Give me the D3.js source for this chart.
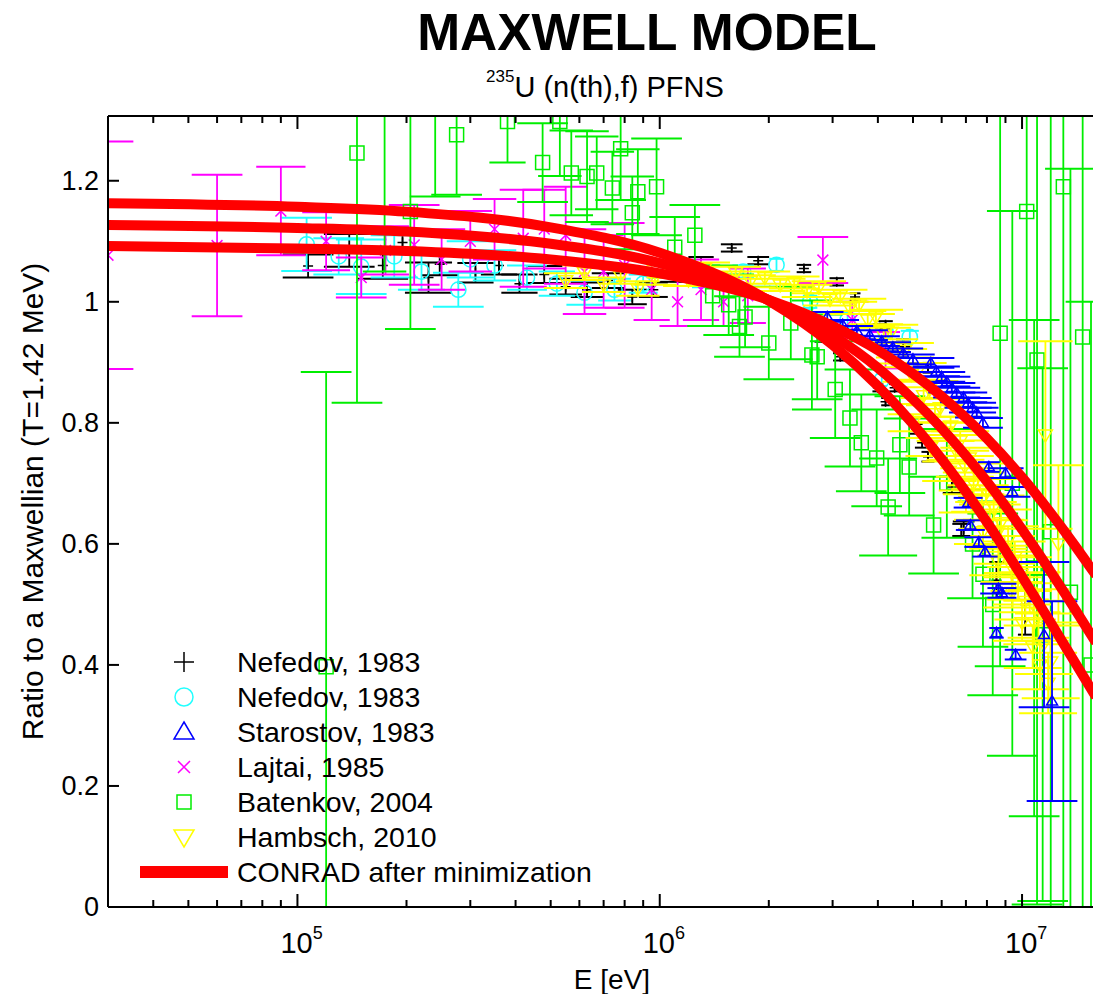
<!DOCTYPE html>
<html>
<head>
<meta charset="utf-8">
<script src="https://cdn.jsdelivr.net/npm/d3@7"></script>
<style>
body { margin: 0; background: #fff; }
text { font-family: "Liberation Sans", Arial, Helvetica, sans-serif; }
</style>
</head>
<body>
<div id="graph"></div>
<script>

// ---- data ----
// each point: [E (eV), ratio, d ratio, half width of energy bin (log10 units)]

var nefedovPlus = [
	[1.07e5, 1.059, 0.019, 0.07], [1.39e5, 1.085, 0.027, 0.07], [1.72e5, 1.060, 0.022, 0.07],
	[1.95e5, 1.098, 0.018, 0.06], [2.3e5, 1.040, 0.025, 0.065], [2.47e5, 1.062, 0.018, 0.05],
	[3.1e5, 1.048, 0.016, 0.05], [3.6e5, 1.060, 0.015, 0.05], [4.1e5, 1.030, 0.015, 0.05],
	[4.8e5, 1.045, 0.014, 0.05], [5.5e5, 1.025, 0.013, 0.045], [6.3e5, 1.020, 0.012, 0.045],
	[7.2e5, 1.035, 0.012, 0.045], [8.4e5, 1.008, 0.012, 0.04], [9.6e5, 1.020, 0.012, 0.04],
	[1.1e6, 1.045, 0.012, 0.04], [1.3e6, 1.062, 0.012, 0.035], [1.58e6, 1.089, 0.006, 0.03],
	[1.87e6, 1.068, 0.006, 0.03], [2.5e6, 1.055, 0.006, 0.02], [2.8e6, 0.940, 0.006, 0.02],
	[3.08e6, 1.033, 0.006, 0.02], [3.15e6, 0.909, 0.006, 0.02], [3.46e6, 1.008, 0.006, 0.015],
	[4.0e6, 0.858, 0.006, 0.015], [4.05e6, 0.957, 0.006, 0.02], [4.2e6, 0.835, 0.006, 0.012],
	[4.2e6, 0.962, 0.006, 0.02], [4.45e6, 0.858, 0.006, 0.015], [4.7e6, 0.932, 0.006, 0.02],
	[5.1e6, 0.790, 0.008, 0.018], [5.3e6, 0.767, 0.008, 0.02], [5.5e6, 0.891, 0.008, 0.015],
	[5.5e6, 0.744, 0.008, 0.018], [6.4e6, 0.694, 0.010, 0.025], [6.8e6, 0.623, 0.010, 0.025],
	[6.9e6, 0.625, 0.012, 0.03], [8.5e6, 0.540, 0.030, 0.02], [1.02e7, 0.500, 0.050, 0.02]
];

var nefedovCircle = [
	[1.06e5, 1.095, 0.044, 0.07], [1.3e5, 1.075, 0.030, 0.07], [1.5e5, 1.058, 0.045, 0.07],
	[1.85e5, 1.075, 0.035, 0.065], [2.2e5, 1.050, 0.030, 0.065], [2.78e5, 1.020, 0.028, 0.07],
	[3.0e5, 1.070, 0.030, 0.065], [3.5e5, 1.060, 0.025, 0.06], [4.3e5, 1.040, 0.020, 0.055],
	[5.2e5, 1.030, 0.020, 0.05], [6.2e5, 1.015, 0.020, 0.05], [7.5e5, 1.020, 0.018, 0.045],
	[9.0e5, 1.030, 0.015, 0.04], [1.3e6, 1.036, 0.012, 0.025], [1.7e6, 1.050, 0.010, 0.03],
	[2.1e6, 1.061, 0.010, 0.02], [2.6e6, 1.000, 0.010, 0.02], [3.3e6, 0.970, 0.010, 0.02],
	[4.1e6, 0.871, 0.010, 0.015], [4.2e6, 0.950, 0.010, 0.02], [4.9e6, 0.942, 0.010, 0.025]
];

var starostov = [
	[2.9e6, 0.975, 0.008, 0.045], [3.2e6, 0.962, 0.008, 0.045], [3.5e6, 0.952, 0.008, 0.045],
	[3.8e6, 0.945, 0.008, 0.05], [4.1e6, 0.935, 0.008, 0.05], [4.4e6, 0.925, 0.008, 0.05],
	[4.7e6, 0.915, 0.008, 0.055], [5.0e6, 0.905, 0.008, 0.06], [5.6e6, 0.899, 0.008, 0.065],
	[5.8e6, 0.885, 0.008, 0.065], [6.0e6, 0.876, 0.008, 0.065], [6.2e6, 0.868, 0.008, 0.065],
	[6.4e6, 0.858, 0.008, 0.065], [6.6e6, 0.850, 0.008, 0.065], [6.9e6, 0.842, 0.008, 0.065],
	[7.1e6, 0.833, 0.008, 0.065], [7.3e6, 0.825, 0.008, 0.065], [7.5e6, 0.817, 0.008, 0.06],
	[7.8e6, 0.800, 0.008, 0.055], [8.1e6, 0.727, 0.008, 0.03], [9.0e6, 0.717, 0.008, 0.05],
	[9.4e6, 0.686, 0.008, 0.05], [7.1e6, 0.668, 0.008, 0.04], [7.2e6, 0.631, 0.008, 0.04],
	[7.6e6, 0.603, 0.008, 0.04], [7.9e6, 0.587, 0.008, 0.035], [8.6e6, 0.526, 0.008, 0.05],
	[8.8e6, 0.519, 0.008, 0.04], [8.5e6, 0.453, 0.008, 0.02], [9.6e6, 0.417, 0.008, 0.03],
	[1.15e7, 0.450, 0.120, 0.07], [1.21e7, 0.340, 0.165, 0.07]
];

var lajtai = [
	[3.0e4, 1.077, 0.188, 0.07], [6.0e4, 1.093, 0.117, 0.07], [9.0e4, 1.150, 0.073, 0.068],
	[1.2e5, 1.100, 0.048, 0.066], [1.5e5, 1.040, 0.033, 0.07], [1.75e5, 1.085, 0.040, 0.065],
	[2.1e5, 1.094, 0.066, 0.07], [2.5e5, 1.070, 0.050, 0.065], [3.0e5, 1.100, 0.050, 0.06],
	[3.5e5, 1.120, 0.050, 0.06], [4.2e5, 1.105, 0.080, 0.065], [4.8e5, 1.120, 0.065, 0.06],
	[5.5e5, 1.110, 0.080, 0.06], [6.2e5, 1.050, 0.070, 0.06], [7.0e5, 1.050, 0.060, 0.055],
	[8.0e5, 1.060, 0.070, 0.055], [9.5e5, 1.020, 0.050, 0.05], [1.12e6, 1.000, 0.040, 0.05],
	[1.3e6, 1.020, 0.050, 0.05], [1.5e6, 1.000, 0.040, 0.045], [1.75e6, 1.010, 0.045, 0.05],
	[2.82e6, 1.069, 0.038, 0.07], [3.4e6, 0.970, 0.030, 0.045], [4.2e6, 0.920, 0.030, 0.04]
];

var batenkov = [
	[1.2e5, 0.397, 0.487, 0.07], [1.46e5, 1.246, 0.413, 0.07], [1.74e5, 1.400, 0.350, 0.06],
	[2.05e5, 1.149, 0.194, 0.07], [2.4e5, 1.320, 0.146, 0.07], [2.75e5, 1.276, 0.099, 0.07],
	[3.8e5, 1.298, 0.068, 0.05], [4.75e5, 1.230, 0.065, 0.07], [5.3e5, 1.298, 0.090, 0.06],
	[5.7e5, 1.213, 0.070, 0.06], [6.3e5, 1.207, 0.075, 0.06], [6.7e5, 1.213, 0.060, 0.06],
	[7.4e5, 1.188, 0.060, 0.06], [7.8e5, 1.253, 0.085, 0.07], [8.4e5, 1.147, 0.060, 0.06],
	[8.7e5, 1.182, 0.070, 0.06], [9.8e5, 1.190, 0.080, 0.07], [1.1e6, 1.090, 0.050, 0.07],
	[1.25e6, 1.110, 0.050, 0.07], [1.4e6, 1.010, 0.050, 0.07], [1.55e6, 0.995, 0.050, 0.07],
	[1.66e6, 0.959, 0.050, 0.07], [1.72e6, 0.975, 0.050, 0.07], [2.0e6, 0.932, 0.060, 0.07],
	[2.3e6, 0.965, 0.060, 0.06], [2.63e6, 0.912, 0.090, 0.055], [2.72e6, 0.909, 0.070, 0.07],
	[3.05e6, 0.855, 0.080, 0.07], [3.35e6, 0.808, 0.080, 0.07], [3.6e6, 0.767, 0.080, 0.07],
	[3.97e6, 0.742, 0.080, 0.07], [4.27e6, 0.661, 0.080, 0.08], [4.6e6, 0.764, 0.080, 0.07],
	[4.88e6, 0.727, 0.080, 0.07], [5.7e6, 0.631, 0.080, 0.07], [6.2e6, 0.700, 0.090, 0.07],
	[7.3e6, 0.600, 0.090, 0.07], [7.8e6, 0.550, 0.120, 0.07], [8.3e6, 0.500, 0.150, 0.07],
	[8.7e6, 0.948, 0.550, 0.07], [9.4e6, 0.700, 0.450, 0.07], [1.03e7, 1.149, 0.600, 0.07],
	[1.08e7, 0.560, 0.410, 0.07], [1.1e7, 0.904, 0.900, 0.07], [1.14e7, 0.450, 0.440, 0.07],
	[1.2e7, 0.620, 0.800, 0.07], [1.3e7, 1.190, 1.200, 0.07], [1.36e7, 0.520, 0.700, 0.07],
	[1.47e7, 0.942, 1.000, 0.07], [1.55e7, 0.400, 0.600, 0.07]
];

var hambsch = [
	[5.5e5, 1.035, 0.012, 0.06], [6.2e5, 1.048, 0.012, 0.06], [7.0e5, 1.028, 0.012, 0.06],
	[7.8e5, 1.042, 0.012, 0.06], [8.7e5, 1.022, 0.012, 0.06], [9.7e5, 1.040, 0.012, 0.06],
	[1.08e6, 1.050, 0.010, 0.07], [1.2e6, 1.036, 0.010, 0.07], [1.33e6, 1.055, 0.010, 0.07],
	[1.47e6, 1.040, 0.010, 0.07], [1.62e6, 1.048, 0.010, 0.07], [1.78e6, 1.034, 0.010, 0.07],
	[1.95e6, 1.040, 0.010, 0.07], [2.15e6, 1.028, 0.010, 0.07], [2.35e6, 1.032, 0.010, 0.07],
	[2.55e6, 1.018, 0.010, 0.07], [2.75e6, 1.024, 0.010, 0.075], [2.95e6, 1.004, 0.010, 0.075],
	[3.15e6, 1.010, 0.010, 0.075], [3.35e6, 0.990, 0.010, 0.075], [3.55e6, 0.995, 0.010, 0.075],
	[3.75e6, 0.970, 0.010, 0.075], [3.95e6, 0.975, 0.012, 0.075], [4.15e6, 0.945, 0.012, 0.075],
	[4.35e6, 0.950, 0.012, 0.075], [4.55e6, 0.910, 0.012, 0.08], [4.75e6, 0.920, 0.012, 0.08],
	[4.95e6, 0.880, 0.012, 0.08], [5.15e6, 0.885, 0.014, 0.08], [5.35e6, 0.845, 0.014, 0.08],
	[5.55e6, 0.855, 0.014, 0.08], [5.75e6, 0.815, 0.014, 0.08], [5.95e6, 0.825, 0.015, 0.08],
	[6.15e6, 0.785, 0.015, 0.08], [6.35e6, 0.795, 0.015, 0.08], [6.55e6, 0.755, 0.016, 0.08],
	[6.75e6, 0.770, 0.016, 0.08], [6.95e6, 0.728, 0.017, 0.08], [7.15e6, 0.742, 0.017, 0.08],
	[7.35e6, 0.700, 0.018, 0.085], [7.55e6, 0.715, 0.018, 0.085], [7.75e6, 0.672, 0.019, 0.085],
	[7.95e6, 0.688, 0.019, 0.085], [8.15e6, 0.645, 0.020, 0.085], [8.35e6, 0.660, 0.020, 0.085],
	[8.55e6, 0.618, 0.021, 0.085], [8.75e6, 0.635, 0.022, 0.085], [8.95e6, 0.590, 0.023, 0.085],
	[9.15e6, 0.605, 0.024, 0.085], [9.35e6, 0.562, 0.025, 0.085], [9.55e6, 0.578, 0.026, 0.085],
	[9.75e6, 0.535, 0.027, 0.085], [9.95e6, 0.550, 0.028, 0.085], [1.02e7, 0.505, 0.030, 0.085],
	[1.05e7, 0.520, 0.033, 0.085], [1.08e7, 0.470, 0.036, 0.085], [1.11e7, 0.485, 0.040, 0.085],
	[1.15e7, 0.435, 0.050, 0.08], [1.16e7, 0.780, 0.155, 0.075], [1.2e7, 0.405, 0.060, 0.08],
	[1.26e7, 0.600, 0.130, 0.07],
	[5.0e6, 0.800, 0.014, 0.07], [5.6e6, 0.760, 0.015, 0.07], [6.3e6, 0.720, 0.016, 0.075],
	[7.0e6, 0.670, 0.018, 0.075], [7.8e6, 0.620, 0.020, 0.08], [8.6e6, 0.570, 0.022, 0.08],
	[9.4e6, 0.520, 0.025, 0.08], [1.0e7, 0.470, 0.030, 0.08], [1.07e7, 0.430, 0.035, 0.08],
	[1.12e7, 0.400, 0.040, 0.08], [1.18e7, 0.370, 0.050, 0.08]
];

// CONRAD curves after minimization
var conradE = [3e4, 1e5, 2e5, 5e5, 1e6, 2e6, 3e6, 4e6, 5e6, 6e6, 8e6, 1e7, 1.2e7, 1.4e7, 1.6e7];
var conradFlat = [1.092, 1.088, 1.084, 1.070, 1.047, 1.003, 0.960, 0.920, 0.881, 0.844, 0.774, 0.710, 0.651, 0.597, 0.548];
var conradMid = [1.127, 1.122, 1.116, 1.096, 1.064, 1.003, 0.945, 0.891, 0.839, 0.791, 0.703, 0.624, 0.554, 0.492, 0.437];
var conradSteep = [1.163, 1.157, 1.149, 1.123, 1.081, 1.002, 0.929, 0.861, 0.798, 0.740, 0.636, 0.546, 0.470, 0.404, 0.347];

var yTicks = [0, 0.2, 0.4, 0.6, 0.8, 1, 1.2];
var xDecades = [5, 6, 7];

// legend order; "layer" gives the drawing order in the plot
var series = [
	{ label: "Nefedov, 1983", color: "#000000", shape: "plus", size: 0.5, layer: 0, data: nefedovPlus },
	{ label: "Nefedov, 1983", color: "#22ffff", shape: "circle", size: 0.85, layer: 1, data: nefedovCircle },
	{ label: "Starostov, 1983", color: "#0000ff", shape: "triangle", size: 0.55, layer: 5, data: starostov },
	{ label: "Lajtai, 1985", color: "#ff00ff", shape: "cross", size: 0.9, layer: 2, data: lajtai },
	{ label: "Batenkov, 2004", color: "#00ee00", shape: "square", size: 1, layer: 3, data: batenkov },
	{ label: "Hambsch, 2010", color: "#ffff00", shape: "triangleDown", size: 0.7, layer: 4, data: hambsch }
];


// ---- layout ----
var width = 1093, height = 994;
var plot = { left: 108, top: 116, right: 1096, bottom: 907 };

var svg = d3.select("#graph").append("svg")
	.attr("width", width)
	.attr("height", height);

var x = d3.scaleLog()
	.domain([3e4, 1.6e7])
	.range([plot.left, plot.right]);

var y = d3.scaleLinear()
	.domain([0, 1.307])
	.range([plot.bottom, plot.top]);

svg.append("clipPath").attr("id", "clip")
	.append("rect")
	.attr("x", plot.left)
	.attr("y", plot.top)
	.attr("width", plot.right - plot.left)
	.attr("height", plot.bottom - plot.top);


function markerPath(shape, k) {
	var p = function(v) { return (v * k).toFixed(2); };
	switch (shape) {
		case "plus": return "M" + p(-10) + ",0H" + p(10) + "M0," + p(-10) + "V" + p(10);
		case "cross": return "M" + p(-6) + "," + p(-6) + "L" + p(6) + "," + p(6) + "M" + p(-6) + "," + p(6) + "L" + p(6) + "," + p(-6);
		case "square": return "M" + p(-7) + "," + p(-7) + "H" + p(7) + "V" + p(7) + "H" + p(-7) + "Z";
		case "triangle": return "M0," + p(-10) + "L" + p(10) + "," + p(7) + "H" + p(-10) + "Z";
		case "triangleDown": return "M0," + p(10) + "L" + p(10) + "," + p(-7) + "H" + p(-10) + "Z";
		case "circle": return "M" + p(9) + ",0A" + p(9) + "," + p(9) + " 0 1,1 " + p(-9) + ",0A" + p(9) + "," + p(9) + " 0 1,1 " + p(9) + ",0Z";
	}
}


var dataLayer = svg.append("g").attr("clip-path", "url(#clip)");

series.slice().sort(function(a, b) { return a.layer - b.layer; }).forEach(function(s) {
	var g = dataLayer.append("g").attr("stroke", s.color).attr("fill", "none");

	var pts = g.selectAll("g.pt")
		.data(s.data)
		.enter()
		.append("g")
		.attr("class", "pt");

	// vertical error bar
	pts.append("line")
		.attr("x1", function(d) { return x(d[0]); })
		.attr("x2", function(d) { return x(d[0]); })
		.attr("y1", function(d) { return y(d[1] - d[2]); })
		.attr("y2", function(d) { return y(d[1] + d[2]); })
		.attr("stroke-width", 1.8);

	// end caps span the energy bin
	[-1, 1].forEach(function(sign) {
		pts.append("line")
			.attr("x1", function(d) { return x(d[0] * Math.pow(10, -d[3])); })
			.attr("x2", function(d) { return x(d[0] * Math.pow(10, d[3])); })
			.attr("y1", function(d) { return y(d[1] + sign * d[2]); })
			.attr("y2", function(d) { return y(d[1] + sign * d[2]); })
			.attr("stroke-width", 2);
	});

	pts.append("path")
		.attr("d", markerPath(s.shape, s.size))
		.attr("transform", function(d) { return "translate(" + x(d[0]) + "," + y(d[1]) + ")"; })
		.attr("stroke-width", 1.5);
});


// red curves
var line = d3.line()
	.x(function(d) { return x(d[0]); })
	.y(function(d) { return y(d[1]); })
	.curve(d3.curveMonotoneX);

[conradFlat, conradMid, conradSteep].forEach(function(vals) {
	dataLayer.append("path")
		.datum(conradE.map(function(e, i) { return [e, vals[i]]; }))
		.attr("d", line)
		.attr("fill", "none")
		.attr("stroke", "#ff0000")
		.attr("stroke-width", 10);
});


// ---- frame and ticks ----
var frame = svg.append("g").attr("stroke", "#000").attr("stroke-width", 2);

frame.append("line").attr("x1", plot.left).attr("x2", width).attr("y1", plot.top).attr("y2", plot.top);
frame.append("line").attr("x1", plot.left).attr("x2", width).attr("y1", plot.bottom).attr("y2", plot.bottom);
frame.append("line").attr("x1", plot.left).attr("x2", plot.left).attr("y1", plot.top).attr("y2", plot.bottom);

var xt = x.ticks().filter(function(t) { return x(t) > plot.left + 1 && x(t) < width; });

function isMajor(t) { return Math.abs(Math.log10(t) - Math.round(Math.log10(t))) < 1e-6; }

frame.selectAll("line.xb").data(xt).enter().append("line")
	.attr("x1", function(d) { return x(d); })
	.attr("x2", function(d) { return x(d); })
	.attr("y1", plot.bottom)
	.attr("y2", function(d) { return plot.bottom - (isMajor(d) ? 13 : 7); });

frame.selectAll("line.xt").data(xt).enter().append("line")
	.attr("x1", function(d) { return x(d); })
	.attr("x2", function(d) { return x(d); })
	.attr("y1", plot.top)
	.attr("y2", function(d) { return plot.top + (isMajor(d) ? 13 : 7); });

frame.selectAll("line.yt").data(yTicks).enter().append("line")
	.attr("x1", plot.left)
	.attr("x2", plot.left + 11)
	.attr("y1", function(d) { return y(d); })
	.attr("y2", function(d) { return y(d); });


// tick labels
svg.selectAll("text.ylab").data(yTicks).enter().append("text")
	.attr("x", 99)
	.attr("y", function(d) { return y(d) + 9; })
	.attr("text-anchor", "end")
	.attr("font-size", 27)
	.text(function(d) { return String(+d.toFixed(1)); });

var xl = svg.selectAll("text.xlab").data(xDecades).enter().append("text")
	.attr("x", function(d) { return x(Math.pow(10, d)) - 17; })
	.attr("y", 953)
	.attr("font-size", 29);
xl.append("tspan").text("10");
xl.append("tspan").attr("font-size", 18).attr("dy", -14).text(function(d) { return d; });

svg.append("text")
	.attr("x", 612)
	.attr("y", 989)
	.attr("text-anchor", "middle")
	.attr("font-size", 28)
	.text("E [eV]");

svg.append("text")
	.attr("transform", "translate(43," + ((plot.top + plot.bottom) / 2 - 10) + ") rotate(-90)")
	.attr("text-anchor", "middle")
	.attr("font-size", 30)
	.text("Ratio to a Maxwellian (T=1.42 MeV)");


// titles
svg.append("text")
	.attr("x", 647)
	.attr("y", 50)
	.attr("text-anchor", "middle")
	.attr("font-size", 51.5)
	.attr("font-weight", "bold")
	.text("MAXWELL MODEL");

var sub = svg.append("text")
	.attr("x", 486)
	.attr("y", 97)
	.attr("font-size", 29);
sub.append("tspan").attr("font-size", 17).attr("dy", -15).text("235");
sub.append("tspan").attr("dy", 15).text("U (n(th),f) PFNS");


// ---- legend ----
var legend = svg.append("g").attr("transform", "translate(0,662)");

var rows = legend.selectAll("g.row")
	.data(series)
	.enter()
	.append("g")
	.attr("class", "row")
	.attr("transform", function(d, i) { return "translate(0," + (i * 35) + ")"; });

rows.append("path")
	.attr("d", function(d) { return markerPath(d.shape, 1); })
	.attr("transform", "translate(184,0)")
	.attr("fill", "none")
	.attr("stroke", function(d) { return d.color; })
	.attr("stroke-width", 1.5);

rows.append("text")
	.attr("x", 237)
	.attr("y", 10)
	.attr("font-size", 28.5)
	.text(function(d) { return d.label; });

legend.append("line")
	.attr("x1", 140).attr("x2", 228)
	.attr("y1", 6 * 35).attr("y2", 6 * 35)
	.attr("stroke", "#ff0000")
	.attr("stroke-width", 12);

legend.append("text")
	.attr("x", 237)
	.attr("y", 6 * 35 + 10)
	.attr("font-size", 28.5)
	.text("CONRAD after minimization");

</script>
</body>
</html>
